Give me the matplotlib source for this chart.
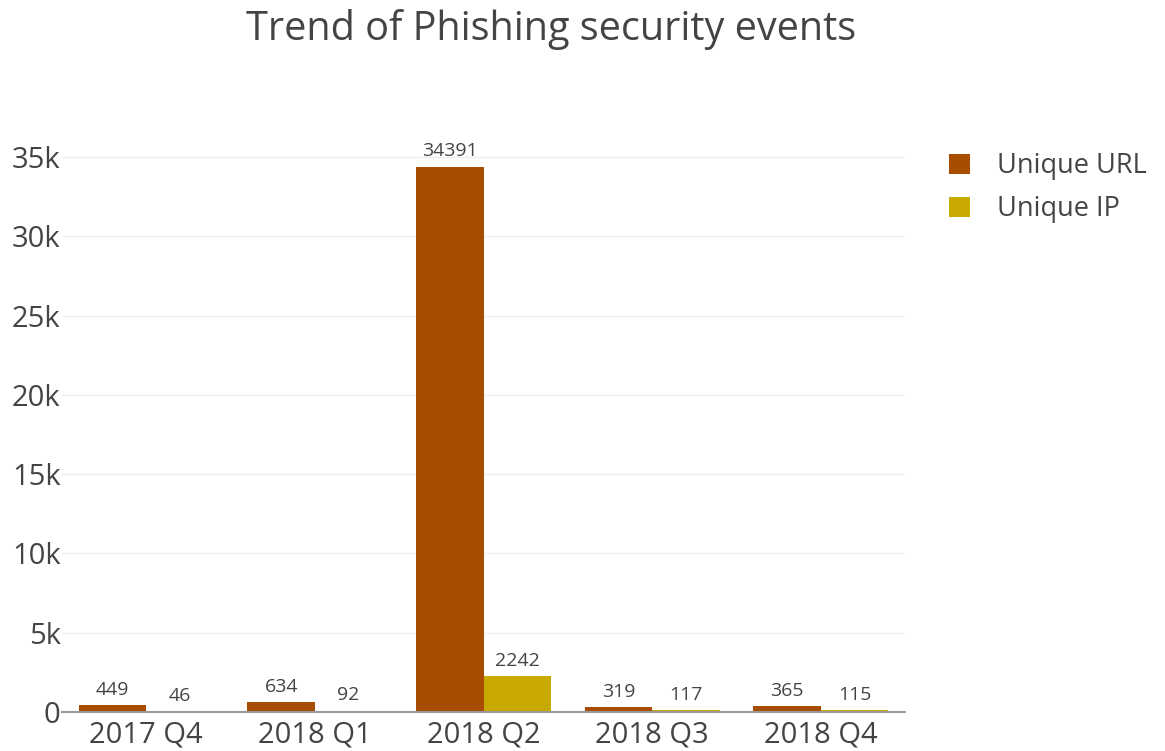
import matplotlib as mpl
mpl.use('Agg')

import matplotlib.pyplot as plt
import numpy as np

plt.rcParams['font.family'] = ['Open Sans', 'DejaVu Sans']

quarters = ["2017 Q4", "2018 Q1", "2018 Q2", "2018 Q3", "2018 Q4"]
unique_url = [449, 634, 34391, 319, 365]
unique_ip = [46, 92, 2242, 117, 115]

url_color = '#A84C00'
ip_color = '#C8A900'
text_color = '#444444'

fig = plt.figure(figsize=(11.65, 7.51), dpi=100)
ax = fig.add_axes([62 / 1165, 39 / 751, 843 / 1165, 574 / 751])

pos = np.arange(len(quarters))
w = 0.4
b1 = ax.bar(pos - w / 2, unique_url, w, color=url_color, label='Unique URL', zorder=3)
b2 = ax.bar(pos + w / 2, unique_ip, w, color=ip_color, label='Unique IP', zorder=3)

# value labels above the bars
for bars in (b1, b2):
    for r in bars:
        ax.text(r.get_x() + r.get_width() / 2, r.get_height() + 400, "%d" % r.get_height(),
                ha='center', va='bottom', fontsize=14, color=text_color)

ax.set_xlim(-0.5, len(quarters) - 0.5)
ax.set_ylim(0, 36200)
ax.set_yticks(np.arange(0, 35001, 5000))
ax.set_yticklabels(["0", "5k", "10k", "15k", "20k", "25k", "30k", "35k"])
ax.set_xticks(pos)
ax.set_xticklabels(quarters)
ax.tick_params(axis='both', length=0, labelsize=21, colors=text_color)
ax.tick_params(axis='y', pad=1)
ax.tick_params(axis='x', pad=6)

ax.grid(axis='y', color='#eeeeee', linewidth=1, zorder=0)
for s in ('top', 'right', 'left'):
    ax.spines[s].set_visible(False)
ax.spines['bottom'].set_color('#999999')
ax.spines['bottom'].set_linewidth(1.5)
ax.spines['bottom'].set_zorder(4)

fig.text(551 / 1165, 1 - 29 / 751, "Trend of Phishing security events", ha='center', va='center',
         fontsize=28.5, color=text_color)

fig.legend(loc='upper left', bbox_to_anchor=(925 / 1165, 1 - 128 / 751), frameon=False,
           fontsize=19.5, handlelength=0.75, handleheight=0.75, labelcolor=text_color,
           labelspacing=0.55, handletextpad=1.0)

plt.savefig("out.png", format="png")
